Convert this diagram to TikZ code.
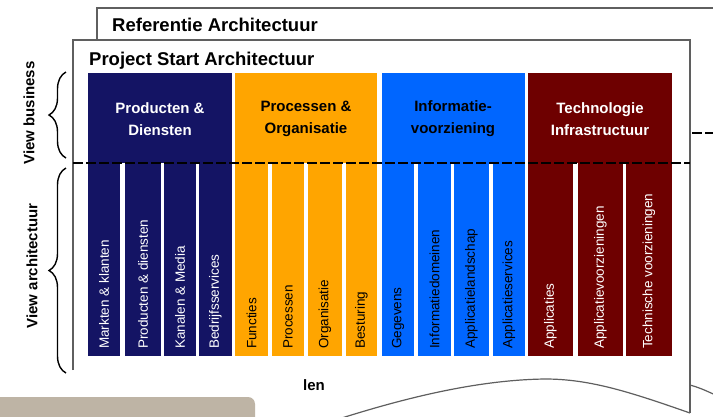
\documentclass[tikz,border=0pt]{standalone}
\usepackage{fontspec}
\setmainfont{Liberation Sans}
\usetikzlibrary{decorations.pathreplacing}
\definecolor{navy}{RGB}{20,20,100}
\definecolor{oranje}{RGB}{255,165,0}
\definecolor{blauw}{RGB}{0,102,255}
\definecolor{bordeaux}{RGB}{110,0,0}
\definecolor{grijs}{RGB}{190,180,165}
\definecolor{rand}{RGB}{95,95,95}

\begin{document}
\begin{tikzpicture}[x=1pt,y=-1pt,
    titel/.style={anchor=west, inner sep=0pt, font=\bfseries\fontsize{18.5}{20}\selectfont},
    kop/.style={align=center, font=\bfseries\fontsize{15}{22}\selectfont},
    kolom/.style={rotate=90, anchor=west, inner sep=0pt, font=\fontsize{13.5}{15}\selectfont},
    zijtekst/.style={rotate=90, inner sep=0pt, font=\bfseries\fontsize{15}{16}\selectfont},
    accolade/.style={decorate, decoration={brace, amplitude=17pt}, line width=1.4pt},
    streep/.style={line width=2.4pt, dash pattern=on 10pt off 3pt},
    blad/.style={draw=rand, line width=1.2pt}]
  \clip (0,0) rectangle (713,416);

  % achterste blad
  \draw[blad] (97,45) -- (97,8) -- (720,8);
  \draw[blad] (690,385) .. controls (700,388) .. (720,397);
  \node[titel] (ref) at (112,25) {Referentie Architectuur};

  % voorste blad
  \fill[white] (73,40) -- (690,40) -- (690,413)
    .. controls (630,392) and (590,379) .. (545,379)
    .. controls (470,380) and (390,402) .. (320,425) -- (73,425) -- cycle;
  \draw[blad] (73,370) -- (73,40) -- (690,40) -- (690,413);
  \draw[blad] (690,413) .. controls (630,392) and (590,379) .. (545,379)
    .. controls (470,380) and (390,402) .. (320,425);
  \node[titel] (psa) at (89,61) {Project Start Architectuur};

  % Producten & Diensten
  \fill[navy] (88,73) rectangle (232,163);
  \node[kop, white] (prod) at (160,119) {Producten \&\\Diensten};
  \foreach \a/\b/\t [count=\i] in {88/120/Markten \& klanten, 125/161/Producten \& diensten,
      164/196/Kanalen \& Media, 199/232/Bedrijfsservices} {
    \fill[navy] (\a,163) rectangle (\b,356);
    \node[kolom, white] (prod\i) at ({(\a+\b)/2},349) {\t};
  }

  % Processen & Organisatie
  \fill[oranje] (235,73) rectangle (377,163);
  \node[kop] (proc) at (306,119) {Processen \&\\Organisatie};
  \foreach \a/\b/\t [count=\i] in {235/268/Functies, 272/304/Processen,
      308/342/Organisatie, 346/377/Besturing} {
    \fill[oranje] (\a,163) rectangle (\b,356);
    \node[kolom] (proc\i) at ({(\a+\b)/2},349) {\t};
  }

  % Informatievoorziening
  \fill[blauw] (382,73) rectangle (525,163);
  \node[kop] (info) at (453,119) {Informatie-\\voorziening};
  \foreach \a/\b/\t [count=\i] in {382/414/Gegevens, 418/451/Informatiedomeinen,
      454/489/Applicatielandschap, 493/525/Applicatieservices} {
    \fill[blauw] (\a,163) rectangle (\b,356);
    \node[kolom] (info\i) at ({(\a+\b)/2},349) {\t};
  }

  % Technologie Infrastructuur
  \fill[bordeaux] (528,73) rectangle (672,163);
  \node[kop, white] (tech) at (600,119) {Technologie\\Infrastructuur};
  \foreach \a/\b/\t [count=\i] in {528/573/Applicaties, 578/623/Applicatievoorzieningen,
      626/672/Technische voorzieningen} {
    \fill[bordeaux] (\a,163) rectangle (\b,356);
    \node[kolom, white] (tech\i) at ({(\a+\b)/2},349) {\t};
  }

  % scheiding business / architectuur
  \draw[streep] (73,163) -- (690,163);
  \draw[streep] (692,133) -- (713,133);

  % accolades links
  \draw[accolade] (66,158) -- (66,72);
  \draw[accolade] (66,373) -- (66,168);
  \node[zijtekst] (vbus) at (29,113) {View business};
  \node[zijtekst] (varch) at (32,266) {View architectuur};

  % onderkant
  \fill[grijs, rounded corners=7pt] (-10,397) rectangle (255,430);
  \node[font=\bfseries\fontsize{15}{16}\selectfont] (len) at (314,385) {len};
\end{tikzpicture}
\end{document}
